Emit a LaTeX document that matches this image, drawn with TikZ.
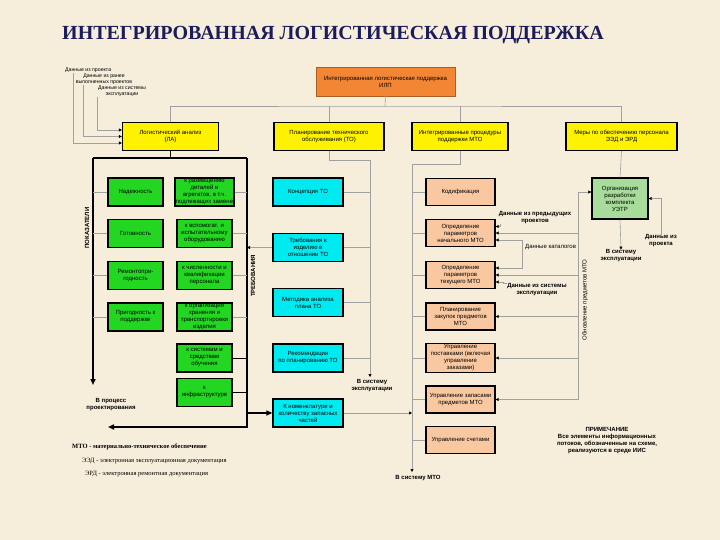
\documentclass[tikz,border=0pt]{standalone}
\usepackage{fontspec}
\setmainfont{Liberation Serif}
\setsansfont{Liberation Sans}
\usetikzlibrary{arrows.meta}
\definecolor{paper}{RGB}{246,238,218}
\definecolor{ilpor}{RGB}{242,134,52}
\definecolor{lagreen}{RGB}{34,214,34}
\definecolor{tocyan}{RGB}{0,234,240}
\definecolor{mtopeach}{RGB}{250,200,160}
\definecolor{uetrgreen}{RGB}{168,220,154}
\definecolor{titleblue}{RGB}{28,28,92}
\definecolor{wiregray}{RGB}{160,160,160}
\tikzset{
  box/.style={draw=black,line width=1.3pt,align=center,inner sep=1pt,
    font=\sffamily\fontsize{6}{7}\selectfont},
  topbox/.style={box,fill=yellow,minimum height=28},
  labox/.style={box,fill=lagreen,minimum width=55,minimum height=28},
  tobox/.style={box,fill=tocyan,minimum width=70,minimum height=28},
  mtobox/.style={box,fill=mtopeach,minimum width=69,minimum height=27},
  wire/.style={draw=wiregray,line width=0.6pt},
  feed/.style={wire,-{Triangle[length=3pt,width=3pt,color=black]}},
  bar/.style={draw=black,line width=1.6pt},
  note/.style={font=\sffamily\fontsize{6}{7}\selectfont,align=center,inner sep=0pt},
  boldnote/.style={note,font=\sffamily\bfseries\fontsize{6}{7}\selectfont},
  tinynote/.style={note,font=\sffamily\fontsize{5.2}{6}\selectfont},
  legend/.style={font=\fontsize{6.5}{7.5}\selectfont,anchor=west,inner sep=0pt},
}
\begin{document}
\begin{tikzpicture}[x=1pt,y=-1pt]
\fill[paper] (0,0) rectangle (720,540);
\useasboundingbox (0,0) rectangle (720,540);

\node[font=\bfseries\fontsize{20}{22}\selectfont,text=titleblue] (title) at (333,35)
  {ИНТЕГРИРОВАННАЯ ЛОГИСТИЧЕСКАЯ ПОДДЕРЖКА};

% top level
\node[box,fill=ilpor,draw=ilpor!70!black,line width=0.4pt,minimum width=139,minimum height=29] (ilp) at (385.5,81.5)
  {Интегрированная логистическая поддержка\\ИЛП};
\node[topbox,minimum width=96] (la) at (170.5,136.5) {Логистический анализ\\(ЛА)};
\node[topbox,minimum width=110] (to) at (329,136.5) {Планирование технического\\обслуживания (ТО)};
\node[topbox,minimum width=96] (mto) at (460,136.5) {Интегрированные процедуры\\поддержки МТО};
\node[topbox,minimum width=111] (mery) at (621.5,136.5) {Меры по обеспечению персонала\\ЭЭД и ЭРД};

\coordinate (bus) at (385,106);
\draw[wire] (ilp.south) -- (bus);
\draw[wire] (la.north) |- (bus) -| (mery.north);
\draw[wire] (to.north) -- (to.north |- bus);
\draw[wire] (mto.north) -- (mto.north |- bus);

% input data
\node[tinynote,anchor=west] (dproj) at (65,70.5) {Данные из проекта};
\node[tinynote] (dprev) at (104,79) {Данные из ранее\\выполненных проектов};
\node[tinynote] (dsys) at (122,91) {Данные из системы\\эксплуатации};
\draw[feed] ([xshift=8pt]dproj.south west) |- ([yshift=-6.5pt]la.west);
\draw[feed] ([xshift=8pt]dprev.south west) |- (la.west);
\draw[feed] ([xshift=-1pt]dsys.south west) |- ([yshift=6.5pt]la.west);

% LA bracket
\coordinate (pokz) at (93,158);
\coordinate (trbz) at (247,158);
\draw[bar] (la.south) -- (la.south |- pokz);
\draw[bar] (pokz) -- (trbz);
\draw[bar,-{Triangle[length=6pt,width=5pt]}] (pokz) -- (93,385);
\draw[bar,-{Triangle[length=6pt,width=5pt]}] (trbz) -- (247,427) -- (108,427);
\node[boldnote,rotate=90] (pok) at (87,228) {ПОКАЗАТЕЛИ};
\node[boldnote,rotate=90] (trb) at (253,276) {ТРЕБОВАНИЯ};
\node[boldnote] (vpr) at (111,405) {В процесс\\проектирования};

\node[labox] (nad) at (135.5,192) {Надежность};
\node[labox] (got) at (135.5,233.5) {Готовность};
\node[labox] (rem) at (135.5,275.5) {Ремонтопри-\\годность};
\node[labox] (prig) at (135.5,317) {Пригодность к\\поддержке};
\node[labox] (traz) at (204.5,192) {к размещению\\деталей и\\агрегатов, в т.ч.\\подлежащих замене};
\node[labox] (tvsp) at (204.5,233.5) {к вспомогат. и\\испытательному\\оборудованию};
\node[labox] (tchis) at (204.5,275.5) {к численности и\\квалификации\\персонала};
\node[labox] (torg) at (204.5,317) {к организации\\хранения и\\транспортировки\\изделия};
\node[labox] (tsis) at (204.5,358) {к системам и\\средствам\\обучения};
\node[labox] (tinf) at (204.5,392.5) {к\\инфраструктуре};
\foreach \b in {nad,got,rem,prig}
  \draw[wire] (\b.west) -- (\b.west -| pokz);
\foreach \b in {traz,tvsp,tchis,torg}
  \draw[wire] (\b.east) -- (\b.east -| trbz);
\foreach \b in {tsis,tinf}
  \draw[black,line width=1pt] (\b.east) -- (\b.east -| trbz);

% TO column
\node[tobox] (konc) at (308,192) {Концепция ТО};
\node[tobox] (treb) at (308,247.5) {Требования к\\изделию в\\отношении ТО};
\node[tobox] (met) at (308,302.5) {Методика анализа\\плана ТО};
\node[tobox] (rek) at (308,358) {Рекомендации\\по планированию ТО};
\node[tobox] (nom) at (308,413) {К номенклатуре и\\количеству запасных\\частей};
\coordinate (toz) at (370,160);
\coordinate (tosys) at (370,377);
\draw[feed] (to.south) |- (toz) -- (tosys);
\foreach \b in {konc,treb,met,rek}
  \draw[wire] (\b.east) -- (\b.east -| toz);
\draw[feed] (treb.west) -- (treb.west -| trbz);
\draw[bar,-{Triangle[length=6pt,width=5pt]}] (nom.west -| trbz) -- (nom.west);
\node[boldnote] (toex) at (372,386) {В систему\\эксплуатации};

% MTO column
\node[mtobox] (kod) at (460.5,192) {Кодификация};
\node[mtobox] (opn) at (460.5,233) {Определение\\параметров\\начального МТО};
\node[mtobox] (opt) at (460.5,275) {Определение\\параметров\\текущего МТО};
\node[mtobox] (plz) at (460.5,316.5) {Планирование\\закупок предметов\\МТО};
\node[mtobox] (ups) at (460.5,358) {Управление\\поставками (включая\\управление\\заказами)};
\node[mtobox] (upz) at (460.5,399.5) {Управление запасами\\предметов МТО};
\node[mtobox] (usch) at (460.5,440) {Управление счетами};
\coordinate (mtoz) at (412,164);
\coordinate (mtosys) at (412,472);
\draw[feed] (mto.south) |- (mtoz) -- (mtosys);
\foreach \b in {kod,opn,opt,plz,ups,upz,usch}
  \draw[wire] (\b.west) -- (\b.west -| mtoz);
\draw[feed] (nom.east) -- (nom.east -| mtoz);
\node[boldnote] (mtoex) at (418,478) {В систему МТО};

\node[boldnote] (dpp) at (535,218) {Данные из предыдущих\\проектов};
\node[note,anchor=west] (dcat) at (525,247) {Данные каталогов};
\node[boldnote] (dse) at (537,290) {Данные из системы\\эксплуатации};
\coordinate (catz) at (522,254);
\draw[feed] ([xshift=2pt]dpp.south west) |- ([yshift=6.5pt]opn.east);
\draw[feed] (catz) |- ([yshift=-7pt]opn.east);
\draw[feed] (catz) |- ([yshift=7pt]opt.east);
\draw[feed] (dse.north west) -- ++(-4,0) |- ([yshift=-7pt]opt.east);

% update loop and UETR
\node[box,fill=uetrgreen,minimum width=56,minimum height=41] (uetr) at (620,198.5)
  {Организация\\разработки\\комплекта\\УЭТР};
\coordinate (upd) at (578,192);
\draw[wire] (upd) -- (upd |- upz.east);
\draw[feed] (upd) -- (uetr.west |- upd);
\foreach \b in {opn,opt,plz,ups,upz}
  \draw[feed] (\b.east -| upd) -- (\b.east);
\node[note,rotate=90] (updt) at (585,300) {Обновление предметов МТО};
\draw[wire] (mery.south) -- (uetr.north);
\node[boldnote] (uetrex) at (621,256) {В систему\\эксплуатации};
\draw[feed] (uetr.south) -- (uetrex.north);
\node[boldnote] (dpr2) at (661,241) {Данные из\\проекта};
\draw[feed] (dpr2.north) |- (uetr.east);

% notes
\node[boldnote] (prim) at (607,441)
  {ПРИМЕЧАНИЕ\\Все элементы информационных\\потоков, обозначенные на схеме,\\реализуются в среде ИИС};
\node[legend,font=\bfseries\fontsize{6.5}{7.5}\selectfont] (lg1) at (72,447) {МТО - материально-техническое обеспечение};
\node[legend] (lg2) at (82,461) {ЭЭД - электронная эксплуатационная документация};
\node[legend] (lg3) at (85,474) {ЭРД - электронная ремонтная документация};
\end{tikzpicture}
\end{document}
